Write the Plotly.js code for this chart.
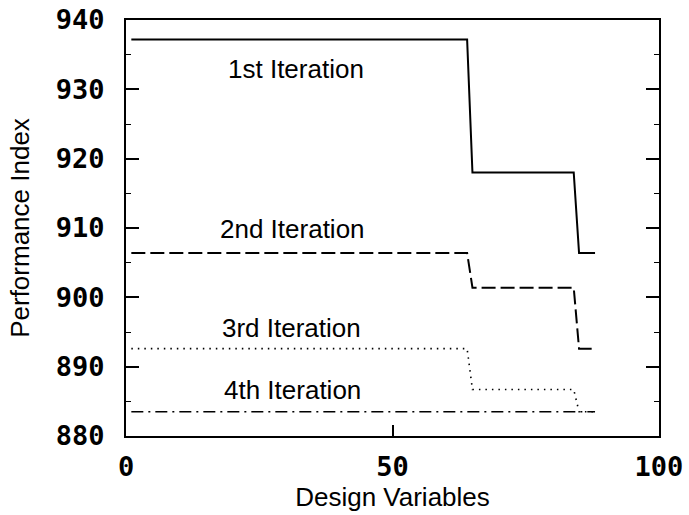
<!DOCTYPE html>
<html>
<head>
<meta charset="utf-8">
<script src="https://cdn.plot.ly/plotly-3.0.1.min.js"></script>
<style>html,body{margin:0;padding:0;background:#fff;}#chart{width:689px;height:515px;}</style>
</head>
<body>
<div id="chart"></div>
<script>
// Design variable breakpoints and performance index values
const xSteps = [1, 64, 65, 84, 85, 88];
const iter1 = [937.2, 937.2, 918.0, 918.0, 906.4, 906.4];
const iter2 = [906.4, 906.4, 901.4, 901.4, 892.6, 892.6];
const iter3 = [892.6, 892.6, 886.7, 886.7, 883.5, 883.5];
const iter4 = [883.5, 883.5, 883.5, 883.5, 883.5, 883.5];
const seriesNames = ["1st Iteration", "2nd Iteration", "3rd Iteration", "4th Iteration"];
const labelX = [31.9, 31.3, 31.0, 31.2];
const labelY = [933.0, 909.8, 895.6, 886.6];
const yTicks = [880, 890, 900, 910, 920, 930, 940];
const xTicks = [0, 50, 100];

const styles = [
  {color: "#000", width: 2, dash: "solid"},
  {color: "#000", width: 2, dash: "14px,5px"},
  {color: "#000", width: 1.6, dash: "1.5px,5px"},
  {color: "#000", width: 1.6, dash: "12px,5px,2px,5px"}
];
const allY = [iter1, iter2, iter3, iter4];
const traces = allY.map((y, i) => ({
  x: xSteps, y: y, type: "scatter", mode: "lines",
  name: seriesNames[i], line: styles[i], showlegend: false, hoverinfo: "skip"
}));

const textFont = {family: "Liberation Sans, Arial, Helvetica, sans-serif", size: 26, color: "#000"};
const tickFont = {family: "DejaVu Sans Mono, monospace", size: 27, color: "#000", weight: "bold"};

const annotations = seriesNames.map((t, i) => ({
  x: labelX[i], y: labelY[i], xref: "x", yref: "y", text: t, showarrow: false,
  font: textFont, xanchor: "center", yanchor: "middle"
}));

const layout = {
  width: 689, height: 515,
  margin: {l: 126, r: 30, t: 20, b: 79},
  paper_bgcolor: "#fff", plot_bgcolor: "#fff",
  showlegend: false,
  xaxis: {
    range: [0, 100], tickvals: xTicks, ticktext: xTicks.map(String),
    ticks: "inside", ticklen: 11, tickwidth: 2, tickcolor: "#000",
    showline: true, linecolor: "#000", linewidth: 2, mirror: true,
    showgrid: false, zeroline: false, tickfont: tickFont, ticklabelstandoff: 6,
    title: {text: "Design Variables", font: textFont, standoff: 6}
  },
  yaxis: {
    range: [880, 940], tickvals: yTicks, ticktext: yTicks.map(String),
    ticks: "inside", ticklen: 13, tickwidth: 2, tickcolor: "#000",
    minor: {ticks: "inside", ticklen: 5, tickwidth: 1, tickcolor: "#000", dtick: 5, showgrid: false},
    showline: true, linecolor: "#000", linewidth: 2, mirror: "ticks",
    showgrid: false, zeroline: false, tickfont: tickFont, ticklabelstandoff: 14,
    title: {text: "Performance Index", font: textFont, standoff: 19}
  },
  annotations: annotations
};

Plotly.newPlot("chart", traces, layout, {staticPlot: true, displayModeBar: false});
</script>
</body>
</html>
